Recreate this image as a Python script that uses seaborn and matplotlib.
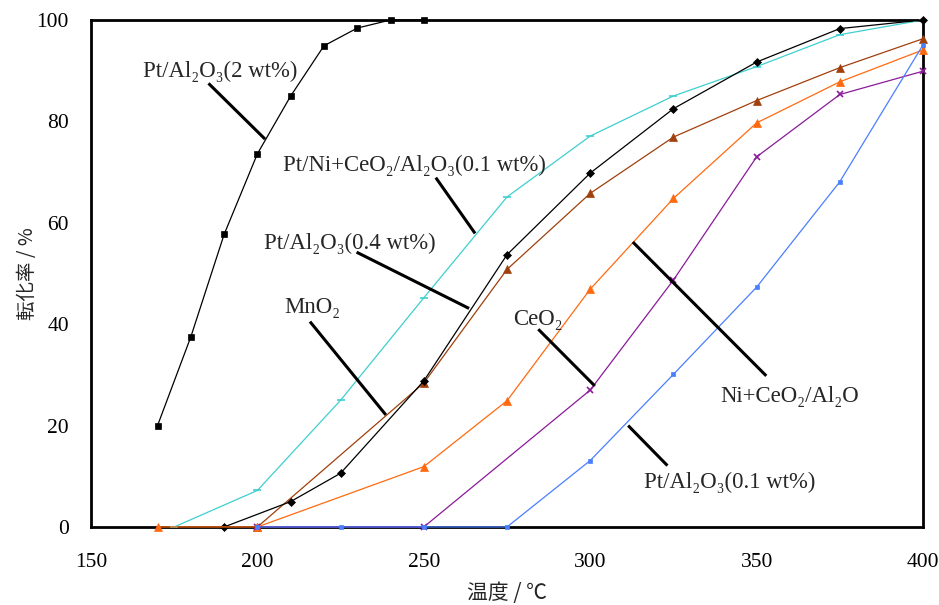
import matplotlib
matplotlib.use("Agg")
import matplotlib.pyplot as plt
import seaborn as sns
import pandas as pd

# Temperature (°C) and conversion (%) for each catalyst
pt2_x = [170, 180, 190, 200, 210, 220, 230, 240, 250]
pt2_y = [20.0, 37.5, 57.7, 73.6, 85.0, 94.9, 98.4, 100.0, 100.0]

ptni_x = [175, 200, 225, 250, 275, 300, 325, 350, 375, 400]
ptni_y = [0.0, 7.2, 25.0, 45.2, 65.1, 77.1, 85.0, 90.8, 97.1, 100.0]

pt04_x = [190, 210, 225, 250, 275, 300, 325, 350, 375, 400]
pt04_y = [0.0, 5.0, 10.6, 28.8, 53.7, 69.8, 82.5, 91.7, 98.3, 100.0]

mno2_x = [200, 250, 275, 300, 325, 350, 375, 400]
mno2_y = [0.0, 28.4, 50.8, 65.8, 76.9, 84.1, 90.6, 96.3]

nice_x = [170, 200, 250, 275, 300, 325, 350, 375, 400]
nice_y = [0.0, 0.0, 11.9, 24.9, 46.9, 64.8, 79.7, 87.8, 94.1]

ceo2_x = [200, 250, 300, 325, 350, 375, 400]
ceo2_y = [0.0, 0.0, 27.0, 48.7, 73.0, 85.3, 89.9]

pt01_x = [200, 225, 250, 275, 300, 325, 350, 375, 400]
pt01_y = [0.0, 0.0, 0.0, 0.0, 13.1, 30.1, 47.3, 68.1, 95.1]

x_ticks = [150, 200, 250, 300, 350, 400]
y_ticks = [0, 20, 40, 60, 80, 100]

series = [
    (pt2_x, pt2_y, "#000000", "s", 4.6, "Pt/Al₂O₃(2 wt%)"),
    (ptni_x, ptni_y, "#3fcfcf", "_", 5.5, "Pt/Ni+CeO₂/Al₂O₃(0.1 wt%)"),
    (mno2_x, mno2_y, "#a0400c", "^", 5.4, "MnO₂"),
    (pt04_x, pt04_y, "#000000", "D", 4.3, "Pt/Al₂O₃(0.4 wt%)"),
    (nice_x, nice_y, "#ff6a10", "^", 5.4, "Ni+CeO₂/Al₂O"),
    (ceo2_x, ceo2_y, "#8a1a9a", "x", 3.8, "CeO₂"),
    (pt01_x, pt01_y, "#4a7fff", "s", 2.4, "Pt/Al₂O₃(0.1 wt%)"),
]

sns.set_style("white")
serif = ["Liberation Serif", "DejaVu Serif"]
cjk = ["Noto Sans CJK JP", "DejaVu Sans"]
plt.rcParams["font.family"] = serif

fig = plt.figure(figsize=(9.39, 6.05), dpi=100)
ax = fig.add_axes([0.0969, 0.129, 0.8861, 0.838])

for xs, ys, color, marker, ms, name in series:
    df = pd.DataFrame({"temp": xs, "conv": ys})
    sns.lineplot(data=df, x="temp", y="conv", ax=ax, color=color, lw=0.9,
                 marker=marker, markersize=ms, markeredgecolor=color,
                 markeredgewidth=1.2 if marker in ("x", "_") else 0.5,
                 estimator=None, clip_on=False, zorder=3)

ax.set_xlim(150, 400)
ax.set_ylim(0, 100)
ax.set_xticks(x_ticks)
ax.set_yticks(y_ticks)
ax.set_xticklabels([str(t) for t in x_ticks])
ax.set_yticklabels([str(t) for t in y_ticks])
ax.tick_params(direction="in", length=6, width=1.5, labelsize=15.5,
               colors="black")
ax.tick_params(axis="x", pad=19)
ax.tick_params(axis="y", pad=16)
for sp in ax.spines.values():
    sp.set_linewidth(2.0)
    sp.set_color("black")
    sp.set_zorder(2)

ax.set_xlabel("温度 / ℃", family=cjk, fontsize=15, labelpad=7)
ax.set_ylabel("転化率 / %", family=cjk, fontsize=14, labelpad=-1)

# Callout labels with leader lines to their curves
callouts = [
    ("Pt/Al₂O₃(2 wt%)", (165.5, 89.9), (185.3, 87.5), (202.3, 76.5)),
    ("Pt/Ni+CeO₂/Al₂O₃(0.1 wt%)", (207.7, 71.4), (253.6, 68.9), (265.4, 57.9)),
    ("Pt/Al₂O₃(0.4 wt%)", (202.0, 55.9), (229.8, 54.2), (263.6, 43.1)),
    ("MnO₂", (208.0, 43.2), (215.8, 40.5), (238.6, 22.1)),
    ("CeO₂", (276.9, 41.0), (284.4, 39.0), (301.4, 27.8)),
    ("Ni+CeO₂/Al₂O", (339.2, 25.8), (352.9, 29.8), (312.8, 56.2)),
    ("Pt/Al₂O₃(0.1 wt%)", (316.1, 8.7), (323.2, 12.1), (311.4, 20.0)),
]
for label, tpos, p0, p1 in callouts:
    ax.text(tpos[0], tpos[1], label, ha="left", va="center", fontsize=16.4,
            family=serif, zorder=5)
    ax.plot([p0[0], p1[0]], [p0[1], p1[1]], color="black", lw=2.2,
            solid_capstyle="butt", zorder=4)

fig.savefig("out.png", dpi=100)
